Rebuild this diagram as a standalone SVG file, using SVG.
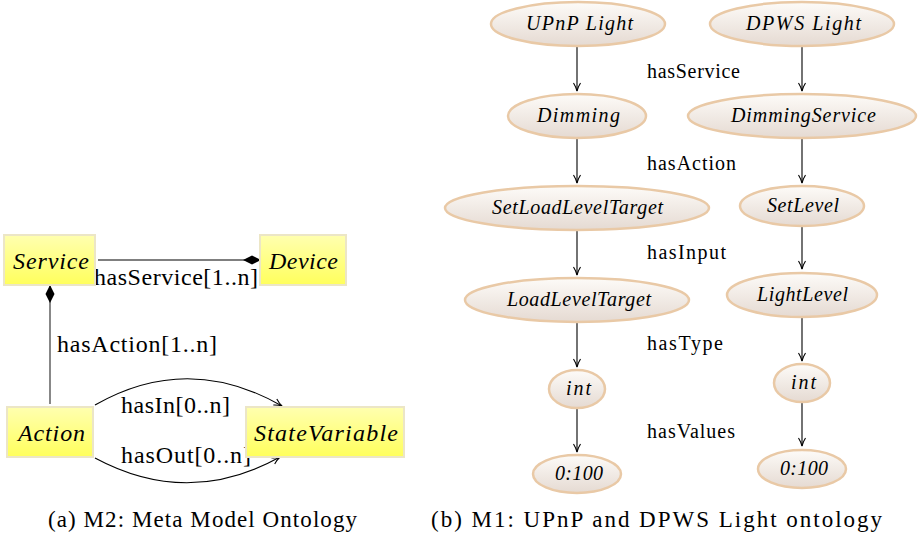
<svg xmlns="http://www.w3.org/2000/svg" width="920" height="538" viewBox="0 0 920 538">
<defs>
<linearGradient id="yel" x1="0" y1="0" x2="0" y2="1">
<stop offset="0" stop-color="#ffffb0"/><stop offset="1" stop-color="#ffff5c"/>
</linearGradient>
<linearGradient id="ell" x1="0" y1="0" x2="0" y2="1">
<stop offset="0" stop-color="#fdfbf8"/><stop offset="1" stop-color="#e5dad2"/>
</linearGradient>
<marker id="arr" viewBox="0 0 10 10" refX="9" refY="5" markerWidth="10" markerHeight="10" markerUnits="userSpaceOnUse" orient="auto">
<path d="M1,1.5 Q5,4 9,5 Q5,6 1,8.5" fill="none" stroke="#000" stroke-width="1.1"/>
</marker>
<marker id="dia" viewBox="0 0 18 10" refX="17" refY="5" markerWidth="18" markerHeight="10" markerUnits="userSpaceOnUse" orient="auto">
<path d="M0,5 L9,0.5 L18,5 L9,9.5 Z" fill="#000"/>
</marker>
<style>
.box{fill:url(#yel);stroke:#ece6c6;stroke-width:2}
.el{fill:url(#ell);stroke:#e9c9a6;stroke-width:2.5}
.ln{fill:none;stroke:#000;stroke-width:1.1}
.ln2{fill:none;stroke:#555;stroke-width:1.4}
text{font-family:'Times New Roman','Liberation Serif',serif}
</style>
</defs>
<rect width="920" height="538" fill="#fff"/>

<g id="connectors">
<path class="ln2" d="M98,260 L260,260" marker-end="url(#dia)"/>
<path class="ln2" d="M50,404 L50,286" marker-end="url(#dia)"/>
<path class="ln" d="M95,405 Q188,352 282,406" marker-end="url(#arr)"/>
<path class="ln" d="M95,458 Q188,508 280,457" marker-end="url(#arr)"/>
<path class="ln" d="M577,47 L577,91" marker-end="url(#arr)"/>
<path class="ln" d="M577,139 L577,183" marker-end="url(#arr)"/>
<path class="ln" d="M577,231 L577,275" marker-end="url(#arr)"/>
<path class="ln" d="M577,322 L577,367" marker-end="url(#arr)"/>
<path class="ln" d="M577,409 L577,452" marker-end="url(#arr)"/>
<path class="ln" d="M802,47 L802,91" marker-end="url(#arr)"/>
<path class="ln" d="M802,139 L802,183" marker-end="url(#arr)"/>
<path class="ln" d="M802,227 L802,269" marker-end="url(#arr)"/>
<path class="ln" d="M802,318 L802,361" marker-end="url(#arr)"/>
<path class="ln" d="M802,403 L802,446" marker-end="url(#arr)"/>
<text x="94" y="285" font-family="Times New Roman, serif" font-size="24" textLength="164">hasService[1..n]</text>
<text x="57" y="352" font-family="Times New Roman, serif" font-size="24" textLength="160">hasAction[1..n]</text>
<text x="121" y="413" font-family="Times New Roman, serif" font-size="24" textLength="109">hasIn[0..n]</text>
<text x="121" y="463" font-family="Times New Roman, serif" font-size="24" textLength="130">hasOut[0..n]</text>
<text x="647" y="78" font-family="Times New Roman, serif" font-size="20" textLength="93">hasService</text>
<text x="647" y="170" font-family="Times New Roman, serif" font-size="20" textLength="89">hasAction</text>
<text x="647" y="259" font-family="Times New Roman, serif" font-size="20" textLength="79">hasInput</text>
<text x="647" y="350" font-family="Times New Roman, serif" font-size="20" textLength="76">hasType</text>
<text x="647" y="438" font-family="Times New Roman, serif" font-size="20" textLength="88">hasValues</text>
</g>

<g id="service"><rect class="box" x="4" y="235" width="91" height="50"/><text x="13" y="269" font-family="Times New Roman, serif" font-style="italic" font-size="24" textLength="76">Service</text></g>
<g id="device"><rect class="box" x="260" y="235" width="86" height="50"/><text x="269" y="269" font-family="Times New Roman, serif" font-style="italic" font-size="24" textLength="69">Device</text></g>
<g id="action"><rect class="box" x="7" y="407" width="86" height="50"/><text x="18" y="441" font-family="Times New Roman, serif" font-style="italic" font-size="24" textLength="67">Action</text></g>
<g id="statevariable"><rect class="box" x="246" y="407" width="158" height="50"/><text x="254" y="441" font-family="Times New Roman, serif" font-style="italic" font-size="24" textLength="144">StateVariable</text></g>

<g id="upnp-light"><ellipse class="el" cx="578" cy="24" rx="87" ry="22"/><text x="526" y="30" font-family="Times New Roman, serif" font-style="italic" font-size="20" textLength="107">UPnP Light</text></g>
<g id="dpws-light"><ellipse class="el" cx="802" cy="24" rx="92" ry="22"/><text x="746" y="30" font-family="Times New Roman, serif" font-style="italic" font-size="20" textLength="115">DPWS Light</text></g>
<g id="dimming"><ellipse class="el" cx="577" cy="116" rx="69" ry="22"/><text x="537" y="122" font-family="Times New Roman, serif" font-style="italic" font-size="20" textLength="83">Dimming</text></g>
<g id="dimmingservice"><ellipse class="el" cx="802" cy="116" rx="114" ry="22"/><text x="731" y="122" font-family="Times New Roman, serif" font-style="italic" font-size="20" textLength="145">DimmingService</text></g>
<g id="setloadleveltarget"><ellipse class="el" cx="577" cy="208" rx="132" ry="22"/><text x="492" y="214" font-family="Times New Roman, serif" font-style="italic" font-size="20" textLength="171">SetLoadLevelTarget</text></g>
<g id="setlevel"><ellipse class="el" cx="802" cy="206" rx="62" ry="20"/><text x="767" y="212" font-family="Times New Roman, serif" font-style="italic" font-size="20" textLength="72">SetLevel</text></g>
<g id="loadleveltarget"><ellipse class="el" cx="577" cy="300" rx="112" ry="22"/><text x="507" y="306" font-family="Times New Roman, serif" font-style="italic" font-size="20" textLength="144">LoadLevelTarget</text></g>
<g id="lightlevel"><ellipse class="el" cx="802" cy="295" rx="75" ry="22"/><text x="757" y="301" font-family="Times New Roman, serif" font-style="italic" font-size="20" textLength="91">LightLevel</text></g>
<g id="int-left"><ellipse class="el" cx="577" cy="389" rx="28" ry="19"/><text x="566" y="395" font-family="Times New Roman, serif" font-style="italic" font-size="20" textLength="25">int</text></g>
<g id="int-right"><ellipse class="el" cx="802" cy="383" rx="28" ry="19"/><text x="791" y="389" font-family="Times New Roman, serif" font-style="italic" font-size="20" textLength="25">int</text></g>
<g id="range-left"><ellipse class="el" cx="577" cy="474" rx="44" ry="19"/><text x="555" y="480" font-family="Times New Roman, serif" font-style="italic" font-size="20" textLength="48">0:100</text></g>
<g id="range-right"><ellipse class="el" cx="802" cy="469" rx="44" ry="19"/><text x="780" y="475" font-family="Times New Roman, serif" font-style="italic" font-size="20" textLength="48">0:100</text></g>

<text x="48" y="527" font-family="Times New Roman, serif" font-size="23" textLength="309">(a) M2: Meta Model Ontology</text>
<text x="431" y="527" font-family="Times New Roman, serif" font-size="23" textLength="451">(b) M1: UPnP and DPWS Light ontology</text>
</svg>
